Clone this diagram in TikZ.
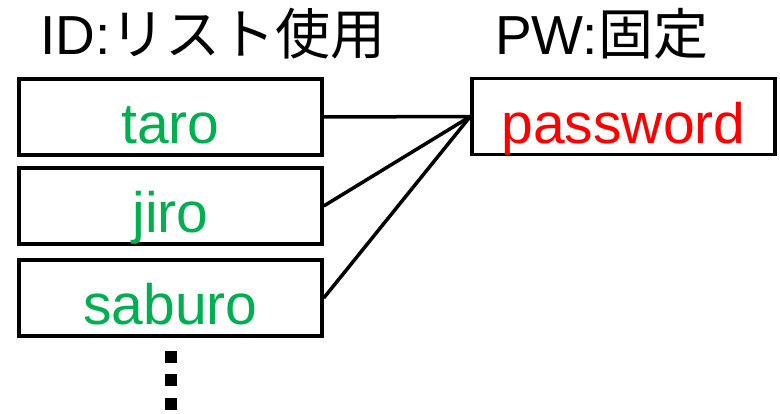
\documentclass[tikz,border=0pt]{standalone}
\usepackage{fontspec}
\setmainfont{Liberation Sans}
\newfontfamily\jpfont{Noto Sans CJK JP}
\usetikzlibrary{positioning}

\definecolor{idgreen}{RGB}{0,176,80}
\definecolor{pwred}{RGB}{255,0,0}

\begin{document}
\begin{tikzpicture}[
  x=1pt, y=-1pt,
  every node/.style={inner sep=0pt},
  title/.style={anchor=base west, font=\fontsize{55}{60}\selectfont},
  entry/.style={rectangle, draw, line width=3.5pt, minimum width=303pt, minimum height=76pt,
    text height=54pt, text depth=0pt, font=\fontsize{57}{60}\selectfont},
  idbox/.style={entry, text=idgreen},
  pwbox/.style={entry, text=pwred},
  link/.style={line width=3.5pt}
]
\useasboundingbox (0,0) rectangle (780,414);

% Headings
\node[title] (idhead) at (40,55) {ID:{\jpfont リスト使用}};
\node[title] (pwhead) at (495,55) {PW:{\jpfont 固定}};

% ID list
\node[idbox] (taro) at (170.5,117) {taro};
\node[idbox] (jiro) at (170.5,206) {jiro};
\node[idbox] (saburo) at (170.5,298) {saburo};

% Fixed password
\node[pwbox] (pass) at (623.5,116.5) {password};

% Links
\draw[link] (taro.east) -- (pass.west);
\draw[link] (jiro.east) -- (pass.west);
\draw[link] (saburo.east) -- (pass.west);

% More entries
\foreach \y in {357,380,404}
  \fill (165,\y-6) rectangle (177,\y+6);

\end{tikzpicture}
\end{document}
